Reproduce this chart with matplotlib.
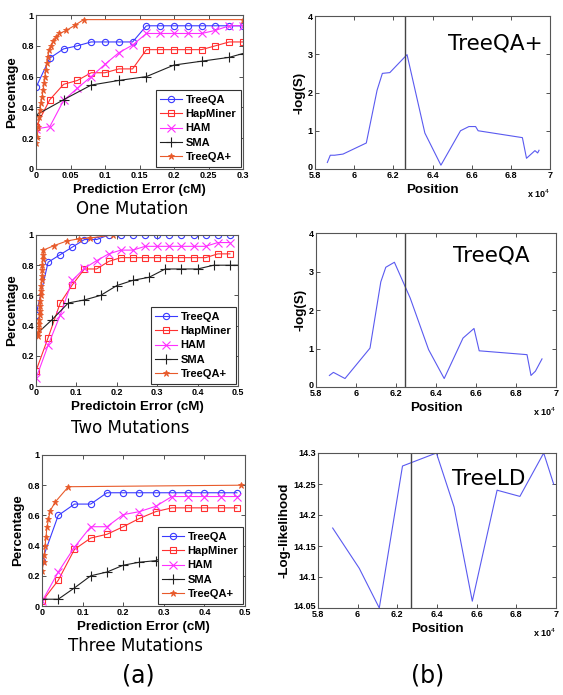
import numpy as np
from matplotlib import pyplot as plt
import matplotlib.transforms as mtransforms

#%% DATOS (a) - one mutation

x1 = [0, 0.02, 0.04, 0.06, 0.08, 0.10, 0.12, 0.14, 0.16, 0.18, 0.20, 0.22, 0.24, 0.26, 0.28, 0.30]
treeqa1 = [0.53, 0.72, 0.78, 0.80, 0.825, 0.825, 0.825, 0.825, 0.93, 0.93, 0.93, 0.93, 0.93, 0.93, 0.93, 0.93]
hapminer1 = [0.275, 0.45, 0.55, 0.575, 0.625, 0.625, 0.65, 0.65, 0.775, 0.775, 0.775, 0.775, 0.775, 0.80, 0.825, 0.825]
ham1 = [0.26, 0.275, 0.445, 0.525, 0.60, 0.68, 0.755, 0.805, 0.88, 0.88, 0.88, 0.88, 0.88, 0.90, 0.93, 0.93]
sma1_x = [0, 0.04, 0.08, 0.12, 0.16, 0.20, 0.24, 0.28, 0.30]
sma1 = [0.35, 0.45, 0.545, 0.575, 0.60, 0.675, 0.70, 0.725, 0.75]
tqp1_x = [0, 0.002, 0.003, 0.005, 0.006, 0.007, 0.009, 0.010, 0.012, 0.013, 0.014, 0.016,
          0.017, 0.019, 0.022, 0.025, 0.029, 0.034, 0.044, 0.057, 0.069, 0.30]
tqp1 = [0.167, 0.21, 0.275, 0.34, 0.38, 0.43, 0.47, 0.51, 0.56, 0.60, 0.64, 0.686,
        0.73, 0.77, 0.80, 0.83, 0.86, 0.88, 0.90, 0.935, 0.97, 0.97]

#%% DATOS (a) - two mutations

x2 = [0, 0.03, 0.06, 0.09, 0.12, 0.15, 0.18, 0.21, 0.24, 0.27, 0.30, 0.33, 0.36, 0.39, 0.42, 0.45, 0.48]
treeqa2 = [0.47, 0.82, 0.87, 0.92, 0.97, 0.97, 1, 1, 1, 1, 1, 1, 1, 1, 1, 1, 1]
hapminer2 = [0.10, 0.32, 0.55, 0.67, 0.775, 0.775, 0.825, 0.85, 0.85, 0.85, 0.85, 0.85, 0.85, 0.85, 0.85, 0.875, 0.875]
ham2 = [0.05, 0.27, 0.47, 0.70, 0.78, 0.83, 0.875, 0.90, 0.90, 0.925, 0.925, 0.925, 0.925, 0.925, 0.925, 0.95, 0.95]
sma2_x = [0, 0.04, 0.08, 0.12, 0.16, 0.20, 0.24, 0.28, 0.32, 0.36, 0.40, 0.44, 0.48, 0.50]
sma2 = [0.34, 0.44, 0.55, 0.57, 0.60, 0.665, 0.70, 0.72, 0.775, 0.775, 0.775, 0.80, 0.80, 0.80]
tqp2_x = [0.005, 0.006, 0.007, 0.008, 0.008, 0.009, 0.010, 0.010, 0.011, 0.012, 0.013, 0.013,
          0.014, 0.015, 0.016, 0.016, 0.017, 0.018, 0.018, 0.045, 0.076, 0.106, 0.134, 0.19]
tqp2 = [0.33, 0.35, 0.38, 0.41, 0.44, 0.47, 0.50, 0.53, 0.56, 0.60, 0.63, 0.66,
        0.70, 0.73, 0.77, 0.80, 0.84, 0.87, 0.90, 0.93, 0.96, 0.975, 0.98, 1.0]

#%% DATOS (a) - three mutations

x3 = [0, 0.04, 0.08, 0.12, 0.16, 0.20, 0.24, 0.28, 0.32, 0.36, 0.40, 0.44, 0.48]
treeqa3 = [0.30, 0.60, 0.675, 0.675, 0.75, 0.75, 0.75, 0.75, 0.75, 0.75, 0.75, 0.75, 0.75]
hapminer3 = [0.03, 0.17, 0.375, 0.45, 0.475, 0.525, 0.58, 0.625, 0.65, 0.65, 0.65, 0.65, 0.65]
ham3 = [0.03, 0.225, 0.39, 0.525, 0.525, 0.605, 0.625, 0.66, 0.725, 0.725, 0.725, 0.725, 0.725]
sma3 = [0.045, 0.045, 0.12, 0.20, 0.225, 0.27, 0.29, 0.30, 0.35, 0.35, 0.375, 0.375, 0.40]
tqp3_x = [0, 0.004, 0.006, 0.0074, 0.010, 0.012, 0.016, 0.020, 0.033, 0.065, 0.489]
tqp3 = [0.23, 0.29, 0.34, 0.40, 0.46, 0.52, 0.575, 0.63, 0.69, 0.79, 0.80]

#%% DATOS (b)

pos1 = [58630, 58780, 59000, 59430, 60620, 61170, 61440, 61820, 62700, 63610, 64430,
        65430, 65860, 66200, 66330, 68590, 68800, 69230, 69370, 69440]
logs1 = [0.17, 0.36, 0.36, 0.39, 0.68, 2.06, 2.50, 2.52, 2.99, 0.94, 0.10,
         1.0, 1.11, 1.11, 1.0, 0.82, 0.28, 0.48, 0.42, 0.49]
pos2 = [58670, 58870, 59450, 60700, 61240, 61490, 61920, 62710, 63630, 64410,
        65350, 65900, 66160, 68550, 68750, 68970, 69300]
logs2 = [0.30, 0.38, 0.22, 1.01, 2.73, 3.11, 3.24, 2.31, 0.97, 0.22,
         1.27, 1.52, 0.94, 0.84, 0.30, 0.41, 0.73]
pos3 = [58740, 60080, 61090, 62260, 63970, 64860, 65780, 67030, 68180, 69380, 69880]
loglik3 = [14.179, 14.114, 14.05, 14.279, 14.30, 14.213, 14.061, 14.24, 14.23, 14.30, 14.25]
vline_pos = [62580, 62460, 62680]

#%% ESTILO

W, H = 563, 695
fig = plt.figure(figsize=(W/100, H/100), dpi=100)

def pixAxes(x0, y0, x1, y1):
    return fig.add_axes([x0/W, 1 - y1/H, (x1-x0)/W, (y1-y0)/H])

labfont = dict(family='Liberation Sans', weight='bold', size=9.6)

def applyStyle(ax):
    ax.tick_params(direction='in', top=True, right=True, length=3, width=0.6,
                   pad=1.5, colors='#333333')
    for lab in ax.get_xticklabels() + ax.get_yticklabels():
        lab.set_fontfamily('Liberation Sans')
        lab.set_fontweight('bold')
        lab.set_fontsize(6.5)
        lab.set_color('black')
    for s in ax.spines.values():
        s.set_color('#555555')
        s.set_linewidth(0.8)

c_tqa = '#3a3aff'
c_hap = '#ff3030'
c_ham = '#ff30ff'
c_sma = '#202020'
c_tqp = '#e85a2a'

def leftPanel(ax, xa, tqa, hap, ham, smx, sma, tpx, tpy, xmax, xt, xtl, xlab):
    ax.plot(xa, tqa, '-o', color=c_tqa, mfc='none', ms=4.5, lw=0.8, mew=0.8, label='TreeQA')
    ax.plot(xa, hap, '-s', color=c_hap, mfc='none', ms=4.2, lw=0.8, mew=0.8, label='HapMiner')
    ax.plot(xa, ham, '-x', color=c_ham, ms=5.5, lw=0.8, mew=0.8, label='HAM')
    ax.plot(smx, sma, '-+', color=c_sma, ms=7, lw=0.8, mew=0.8, label='SMA')
    ax.plot(tpx, tpy, '-*', color=c_tqp, ms=4.5, lw=0.8, mew=0.6, label='TreeQA+')
    ax.set_xlim(0, xmax)
    ax.set_ylim(0, 1)
    ax.set_xticks(xt)
    ax.set_xticklabels(xtl)
    ax.set_yticks([0, 0.2, 0.4, 0.6, 0.8, 1])
    ax.set_yticklabels(['0', '0.2', '0.4', '0.6', '0.8', '1'])
    ax.set_xlabel(xlab, labelpad=3, **labfont)
    ax.set_ylabel('Percentage', labelpad=2, **labfont)
    leg = ax.legend(loc='lower right', prop=dict(family='Liberation Sans', weight='bold', size=8),
                    handlelength=2.0, handletextpad=0.3, labelspacing=0.4, borderpad=0.4,
                    borderaxespad=0.2, fancybox=False, framealpha=1, edgecolor='#333333')
    leg.get_frame().set_linewidth(0.8)
    applyStyle(ax)

ax1 = pixAxes(36, 15, 243, 169)
leftPanel(ax1, x1, treeqa1, hapminer1, ham1, sma1_x, sma1, tqp1_x, tqp1, 0.3,
          [0, 0.05, 0.1, 0.15, 0.2, 0.25, 0.3], ['0', '0.05', '0.1', '0.15', '0.2', '0.25', '0.3'],
          'Prediction Error (cM)')

ax2 = pixAxes(36, 235, 238, 386)
leftPanel(ax2, x2, treeqa2, hapminer2, ham2, sma2_x, sma2, tqp2_x, tqp2, 0.5,
          [0, 0.1, 0.2, 0.3, 0.4, 0.5], ['0', '0.1', '0.2', '0.3', '0.4', '0.5'],
          'Predictoin Error (cM)')

ax3 = pixAxes(42, 455, 245, 606)
leftPanel(ax3, x3, treeqa3, hapminer3, ham3, x3, sma3, tqp3_x, tqp3, 0.5,
          [0, 0.1, 0.2, 0.3, 0.4, 0.5], ['0', '0.1', '0.2', '0.3', '0.4', '0.5'],
          'Prediction Error (cM)')

#%% PANELES (b)

c_line = '#5a5af0'
xt_pos = [58000, 60000, 62000, 64000, 66000, 68000, 70000]
xt_lab = ['5.8', '6', '6.2', '6.4', '6.6', '6.8', '7']

def rightPanel(ax, pos, val, vx, ylim, yt, ytl, ylab, name, nx, ny):
    ax.plot(pos, val, color=c_line, lw=0.8)
    ax.axvline(vx, color='#444444', lw=1.0)
    ax.set_xlim(58000, 70000)
    ax.set_ylim(ylim)
    ax.set_xticks(xt_pos)
    ax.set_xticklabels(xt_lab)
    ax.set_yticks(yt)
    ax.set_yticklabels(ytl)
    ax.set_xlabel('Position', labelpad=3, **labfont)
    ax.set_ylabel(ylab, labelpad=2, **labfont)
    ax.text(nx, ny, name, transform=ax.transAxes, ha='right', va='center',
            family='DejaVu Sans', fontsize=15.5)
    ax.text(1.0, -0.16, r'x 10$^4$', transform=ax.transAxes, ha='right', va='center',
            family='Liberation Sans', weight='bold', fontsize=6.5)
    applyStyle(ax)
    # lowest y label sits a bit above the corner, as in the original
    lab0 = ax.get_yticklabels()[0]
    lab0.set_transform(lab0.get_transform() +
                       mtransforms.ScaledTranslation(0, 2/72, fig.dpi_scale_trans))

b1 = pixAxes(315, 16, 550, 169)
rightPanel(b1, pos1, logs1, vline_pos[0], (0, 4), [0, 1, 2, 3, 4], ['0', '1', '2', '3', '4'],
           '-log(S)', 'TreeQA+', 0.97, 0.82)
b2 = pixAxes(316, 233, 556, 387)
rightPanel(b2, pos2, logs2, vline_pos[1], (0, 4), [0, 1, 2, 3, 4], ['0', '1', '2', '3', '4'],
           '-log(S)', 'TreeQA', 0.89, 0.855)
b3 = pixAxes(318, 453, 556, 608)
rightPanel(b3, pos3, loglik3, vline_pos[2], (14.05, 14.3),
           [14.05, 14.1, 14.15, 14.2, 14.25, 14.3],
           ['14.05', '14.1', '14.15', '14.2', '14.25', '14.3'],
           '-Log-likelihood', 'TreeLD', 0.87, 0.83)

#%% TEXTOS

def figText(x, y, s, size):
    fig.text(x/W, 1 - y/H, s, ha='center', va='center', family='DejaVu Sans', fontsize=size)

figText(132, 209, 'One Mutation', 12)
figText(130, 428, 'Two Mutations', 12)
figText(136, 646, 'Three Mutations', 12)
figText(138, 676, '(a)', 17)
figText(428, 676, '(b)', 17)

fig.savefig('out.png', dpi=100)
